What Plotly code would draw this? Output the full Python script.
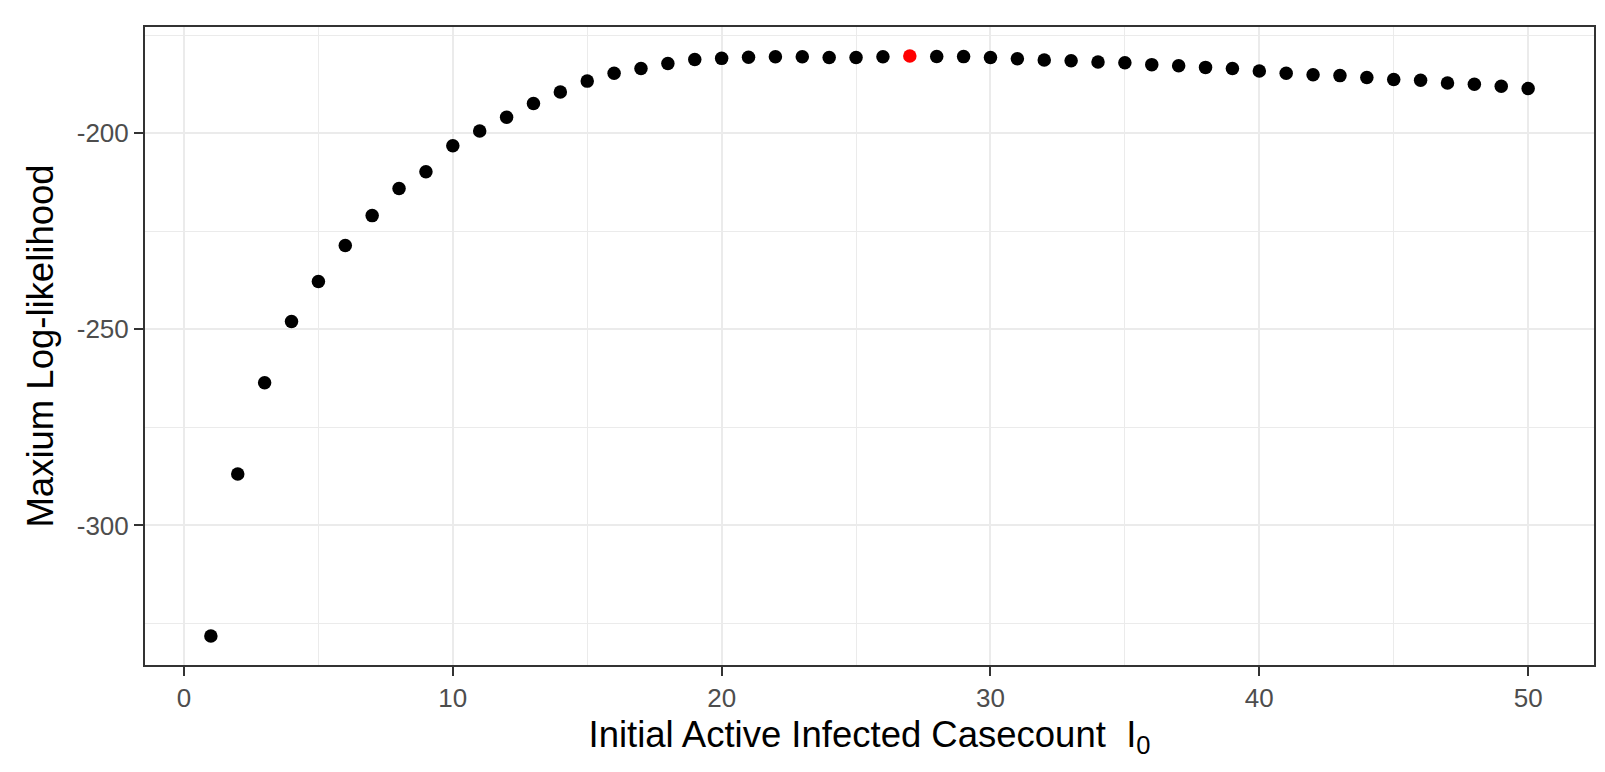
import plotly.graph_objects as go

# Initial active infected casecount I0
i0 = list(range(1, 51))
# Maximum log-likelihood for each I0
loglik = [
    -328.2, -286.9, -263.6, -248.0, -237.8, -228.6, -221.0, -214.1, -209.8, -203.2,
    -199.4, -195.9, -192.4, -189.5, -186.7, -184.7, -183.5, -182.2, -181.2, -180.9,
    -180.6, -180.5, -180.5, -180.7, -180.7, -180.5, -180.3, -180.4, -180.45, -180.7,
    -181.0, -181.3, -181.5, -181.8, -182.0, -182.5, -182.8, -183.2, -183.5, -184.1,
    -184.7, -185.1, -185.3, -185.8, -186.3, -186.5, -187.2, -187.5, -188.0, -188.6,
]
best_idx = loglik.index(max(loglik))
colors = ["red" if k == best_idx else "black" for k in range(len(i0))]

x_ticks = [0, 10, 20, 30, 40, 50]
y_ticks = [-300, -250, -200]

fig = go.Figure()
fig.add_trace(go.Scatter(
    x=i0, y=loglik, mode="markers",
    marker=dict(color=colors, size=13.5, line=dict(width=0)),
    showlegend=False, hoverinfo="x+y",
))

font_family = "Liberation Sans, Arial, sans-serif"
fig.update_layout(
    width=1605, height=772,
    margin=dict(l=137, r=19, t=19, b=115),
    paper_bgcolor="white", plot_bgcolor="white",
    font=dict(family=font_family, color="black"),
)
fig.update_xaxes(
    range=[-1.45, 52.45], tickvals=x_ticks, ticktext=[str(v) for v in x_ticks],
    ticks="outside", ticklen=9, tickwidth=2, tickcolor="#333333",
    tickfont=dict(size=26, color="#4D4D4D", family=font_family),
    showgrid=True, gridcolor="#EBEBEB", gridwidth=2.2,
    minor=dict(tickvals=[5, 15, 25, 35, 45], showgrid=True, gridcolor="#EBEBEB", gridwidth=1.1, ticks=""),
    showline=True, linecolor="#333333", linewidth=2, mirror=True,
    zeroline=False,
    title=dict(text="Initial Active Infected Casecount\u00a0\u00a0I<sub>0</sub>",
               font=dict(size=36.5, color="black", family=font_family), standoff=9),
    automargin=False,
)
fig.update_yaxes(
    range=[-335.6, -172.9], tickvals=y_ticks, ticktext=[str(v) for v in y_ticks],
    ticks="outside", ticklen=9, tickwidth=2, tickcolor="#333333",
    tickfont=dict(size=26, color="#4D4D4D", family=font_family),
    showgrid=True, gridcolor="#EBEBEB", gridwidth=2.2,
    minor=dict(tickvals=[-325, -275, -225, -175], showgrid=True, gridcolor="#EBEBEB", gridwidth=1.1, ticks=""),
    showline=True, linecolor="#333333", linewidth=2, mirror=True,
    zeroline=False,
    title=dict(text="Maxium Log-likelihood",
               font=dict(size=36.5, color="black", family=font_family), standoff=12),
    automargin=False,
)
fig.write_html("out.html")
